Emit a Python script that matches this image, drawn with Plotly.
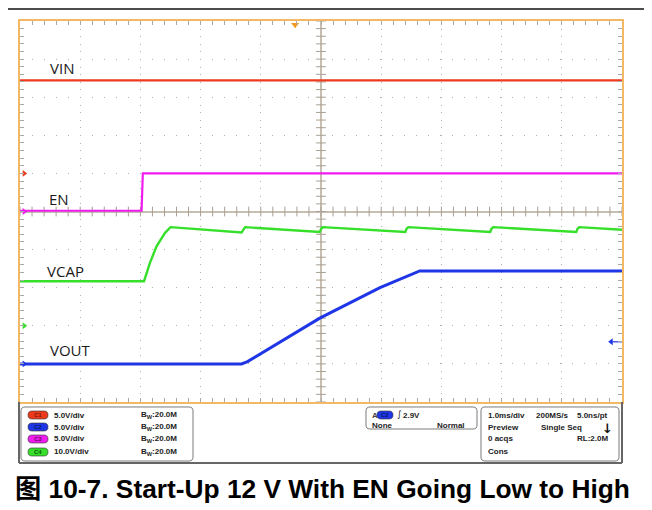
import numpy as np
import plotly.graph_objects as go

# ---------------- data (time in ms, values in volts) ----------------
vin_t = [-5.0, 5.0]
vin_v = [12.2, 12.2]

en_t = [-5.0, -2.98, -2.96, 5.0]
en_v = [0.1, 0.1, 5.0, 5.0]

vcap_t = [-5.0, -2.94, -2.84, -2.73, -2.59, -2.50, -1.32, -1.29, -1.26, -0.02, 0.0, 0.03,
          1.40, 1.42, 1.45, 2.81, 2.83, 2.86, 4.24, 4.26, 4.29, 5.0]
vcap_v = [11.7, 11.7, 16.6, 20.9, 24.4, 25.9, 24.5, 25.4, 25.9, 24.6, 25.4, 25.9,
          24.6, 25.4, 25.9, 24.6, 25.4, 25.9, 24.6, 25.4, 25.9, 25.2]

vout_t = [-5.0, -1.32, -1.22, -0.02, 0.98, 1.64, 5.0]
vout_v = [0.0, 0.0, 0.3, 6.0, 10.0, 12.2, 12.2]

trigger_time = -0.43      # ms
trigger_level = 2.9       # V on C2 (VOUT)

# channel settings: volts/div and ground-marker position (div)
channels = ["VIN", "VOUT", "EN", "VCAP"]
ch_names = ["C1", "C2", "C3", "C4"]
ch_scale = [5.0, 5.0, 5.0, 10.0]
ch_offset = [1.0, -4.0, 0.0, -3.0]
ch_color = ["#ee3a1c", "#1e36e6", "#f01cf0", "#36e02a"]
ch_text = ["#7a1a0a", "#0a1a6a", "#6a0a6a", "#0a5a0a"]
ch_scale_lbl = ["5.0V/div", "5.0V/div", "5.0V/div", "10.0V/div"]
bw_lbl = ["20.0M", "20.0M", "20.0M", "20.0M"]
label_px = {"VIN": (48, 68), "EN": (47, 199), "VCAP": (45, 271), "VOUT": (48, 350)}

info_rows = [["1.0ms/div", "200MS/s", "5.0ns/pt"],
             ["Preview", "Single Seq", ""],
             ["0 acqs", "", "RL:2.0M"],
             ["Cons", "", ""]]

series = {"VIN": (vin_t, vin_v), "VOUT": (vout_t, vout_v),
          "EN": (en_t, en_v), "VCAP": (vcap_t, vcap_v)}

# ---------------- layout geometry ----------------
# page coordinates below; the html body adds an 8px margin, so shift by OFF
OFF = 8
W, H = 636, 502
PX0, PX1, PY0, PY1 = 20, 622, 21, 402          # plot area in page px
L, T = PX0 - OFF, PY0 - OFF
R, B = W - (PX1 - OFF), H - (PY1 - OFF)
PW, PH = PX1 - PX0, PY1 - PY0


def pp(px, py):
    return (px - PX0) / PW, (PY1 - py) / PH


def rrect(x0, y0, x1, y1, r):
    def P(x, y):
        a, b = pp(x, y)
        return f"{a:.5f},{b:.5f}"
    return (f"M{P(x0 + r, y0)} L{P(x1 - r, y0)} Q{P(x1, y0)} {P(x1, y0 + r)} "
            f"L{P(x1, y1 - r)} Q{P(x1, y1)} {P(x1 - r, y1)} L{P(x0 + r, y1)} "
            f"Q{P(x0, y1)} {P(x0, y1 - r)} L{P(x0, y0 + r)} Q{P(x0, y0)} {P(x0 + r, y0)} Z")


fig = go.Figure()

# center cross ticks
tk = np.round(np.arange(-5, 5.001, 0.2), 3)
fig.add_trace(go.Scatter(x=tk, y=[0] * len(tk), mode="markers", hoverinfo="skip",
                         marker=dict(symbol="line-ns", size=7, line=dict(color="#a99f93", width=1)),
                         showlegend=False))
fig.add_trace(go.Scatter(x=[0] * len(tk), y=tk, mode="markers", hoverinfo="skip",
                         marker=dict(symbol="line-ew", size=7, line=dict(color="#a99f93", width=1)),
                         showlegend=False))

widths = {"VIN": 2.2, "VOUT": 3.0, "EN": 2.2, "VCAP": 2.4}
for name, sc, off, col in zip(channels, ch_scale, ch_offset, ch_color):
    t, v = series[name]
    y = [off + vv / sc for vv in v]
    fig.add_trace(go.Scatter(x=t, y=y, mode="lines", line=dict(color=col, width=widths[name]),
                             showlegend=False, hoverinfo="skip"))

# ground markers on left edge
for off, col in zip(ch_offset, ch_color):
    fig.add_trace(go.Scatter(x=[-5.02], y=[off], mode="markers", cliponaxis=False,
                             marker=dict(symbol="circle", size=7, color=col),
                             showlegend=False, hoverinfo="skip"))
    fig.add_trace(go.Scatter(x=[-4.93], y=[off], mode="markers", cliponaxis=False,
                             marker=dict(symbol="triangle-right", size=6, color=col),
                             showlegend=False, hoverinfo="skip"))

# trigger level arrow (right side, on VOUT channel)
ty = ch_offset[1] + trigger_level / ch_scale[1]
fig.add_trace(go.Scatter(x=[4.82, 5.0], y=[ty, ty], mode="lines", cliponaxis=False,
                         line=dict(color=ch_color[1], width=1.2), showlegend=False, hoverinfo="skip"))
fig.add_trace(go.Scatter(x=[4.82], y=[ty], mode="markers", cliponaxis=False,
                         marker=dict(symbol="triangle-left", size=6, color=ch_color[1]),
                         showlegend=False, hoverinfo="skip"))
# trigger position marker (top)
fig.add_trace(go.Scatter(x=[trigger_time], y=[4.9], mode="markers", cliponaxis=False,
                         marker=dict(symbol="triangle-down", size=7, color="#f39a1e"),
                         showlegend=False, hoverinfo="skip"))

axis_common = dict(showticklabels=False, showline=True, linecolor="#f2b866", linewidth=2,
                   mirror="allticks", ticks="inside", ticklen=4, tickcolor="#a8a8a8",
                   tickwidth=1, dtick=1, tick0=0, showgrid=True, gridcolor="#b0b0b0",
                   gridwidth=1, zeroline=True, zerolinecolor="#c8bfb3", zerolinewidth=1.5,
                   minor=dict(dtick=0.2, ticks="inside", ticklen=4, tickcolor="#a8a8a8",
                              showgrid=False),
                   fixedrange=True)

fig.update_xaxes(range=[-5, 5], griddash="1px,6.6px", **axis_common)
fig.update_yaxes(range=[-5, 5], griddash="1px,11px", **axis_common)

shapes = []
# top black rule
shapes.append(dict(type="line", xref="paper", yref="paper",
                   x0=pp(0, 9)[0], x1=pp(660, 9)[0], y0=pp(0, 9)[1], y1=pp(0, 9)[1],
                   line=dict(color="#111111", width=1.5)))
# outer frame of info panel
for (a, b, c, d) in [(19, 402, 19, 463), (622, 402, 622, 463), (19, 463, 622, 463)]:
    p0, p1 = pp(a, b), pp(c, d)
    shapes.append(dict(type="line", xref="paper", yref="paper", x0=p0[0], y0=p0[1],
                       x1=p1[0], y1=p1[1], line=dict(color="#666666", width=2)))
# boxes
for (x0, y0, x1, y1) in [(21, 407, 193, 461), (366, 407, 477, 429), (481, 407, 619, 461)]:
    shapes.append(dict(type="path", xref="paper", yref="paper", path=rrect(x0, y0, x1, y1, 4),
                       line=dict(color="#7a7a7a", width=1), fillcolor="white"))

annotations = []


def txt(px, py, s, size=8, color="#222222", anchor="left", bold=True,
        family="Liberation Sans, Arial"):
    x, y = pp(px, py)
    annotations.append(dict(x=x, y=y, xref="paper", yref="paper",
                            text=(f"<b>{s}</b>" if bold else s),
                            showarrow=False, xanchor=anchor, yanchor="middle",
                            font=dict(size=size, color=color, family=family)))


# channel labels
for name in channels:
    px, py = label_px[name]
    txt(px, py, name, size=15, color="#1a1a1a", bold=False, family="Open Sans, Lato, sans-serif")

# channel rows
row_y = [415, 427, 439, 452]
for i in range(4):
    yy = row_y[i]
    shapes.append(dict(type="path", xref="paper", yref="paper", path=rrect(28, yy - 4, 48, yy + 4, 4),
                       line=dict(color="#333333", width=0.6), fillcolor=ch_color[i]))
    txt(38, yy, ch_names[i], size=6, color=ch_text[i], anchor="center")
    txt(52, yy, ch_scale_lbl[i])
    txt(139, yy, "B<sub>W</sub>:" + bw_lbl[i])

# trigger box
shapes.append(dict(type="path", xref="paper", yref="paper", path=rrect(377, 411, 393, 419, 4),
                   line=dict(color="#333333", width=0.6), fillcolor=ch_color[1]))
txt(370, 415, "A", color="#444444")
txt(385, 415, ch_names[1], size=6, color=ch_text[1], anchor="center")
txt(395, 414, "∫", size=9, bold=False, family="DejaVu Sans")
txt(401, 415, f"{trigger_level}V")
txt(370, 425, "None")
txt(467, 425, "Normal", anchor="right")

# acquisition box
cols_x = [486, 534, 575]
for r, row in enumerate(info_rows):
    for c, s in enumerate(row):
        if s:
            cx = cols_x[c]
            if r == 1 and c == 1:
                cx = 539
            txt(cx, row_y[r], s)
txt(607, 428, "↓", size=13, color="#111111", anchor="center", family="DejaVu Sans")

# caption
cx, cy = pp(322, 489)
annotations.append(dict(x=cx, y=cy, xref="paper", yref="paper", showarrow=False,
                        text="<b>图 10-7. Start-Up 12 V With EN Going Low to High</b>",
                        xanchor="center", yanchor="middle",
                        font=dict(size=26.3, color="#000000",
                                  family="Liberation Sans, Arial, Noto Sans CJK SC")))

fig.update_layout(width=W, height=H, margin=dict(l=L, r=R, t=T, b=B),
                  paper_bgcolor="white", plot_bgcolor="white",
                  shapes=shapes, annotations=annotations, showlegend=False)

fig.write_html("out.html")
